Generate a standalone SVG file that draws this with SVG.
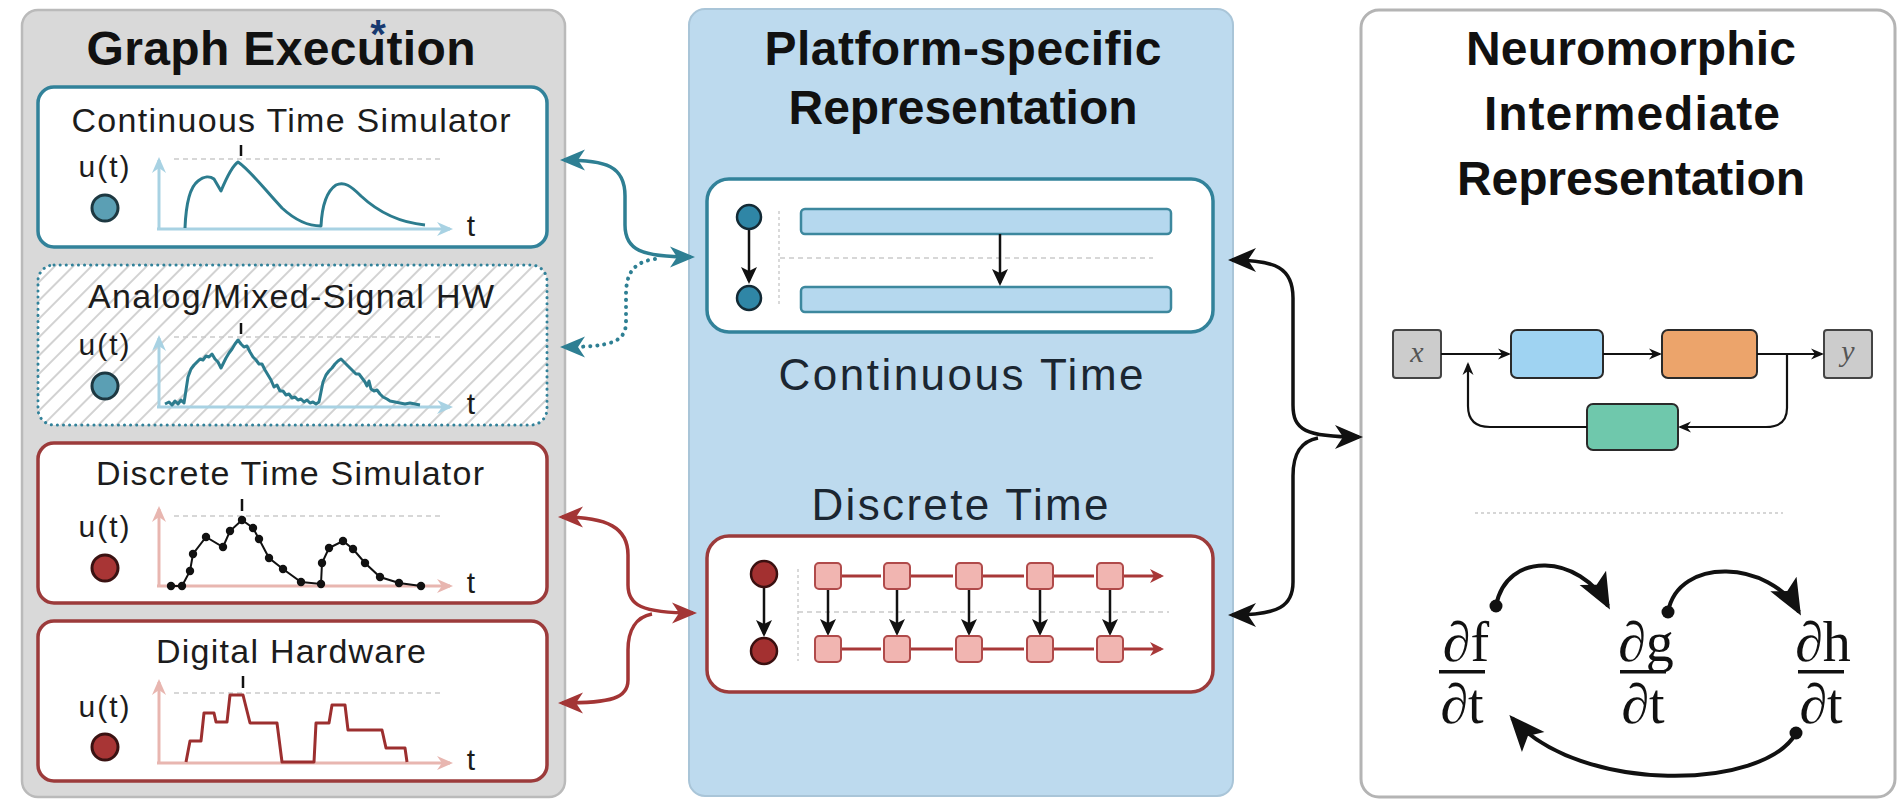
<svg xmlns="http://www.w3.org/2000/svg" width="1898" height="800" viewBox="0 0 1898 800">
  <style>
    .title{font-family:"Liberation Sans",Arial,sans-serif;font-weight:bold;font-size:48px;fill:#111;text-anchor:middle}
    .lbl{font-family:"Liberation Sans",Arial,sans-serif;font-size:34px;fill:#1c1c1c;text-anchor:middle}
    .sub{font-family:"Liberation Sans",Arial,sans-serif;font-size:44px;fill:#1b2631;text-anchor:middle}
    .ut{font-family:"Liberation Sans",Arial,sans-serif;font-size:30px;fill:#1c1c1c;text-anchor:middle}
    .math{font-family:"Liberation Serif","Times New Roman",serif;font-size:56px;fill:#111;text-anchor:middle}
    .var{font-family:"Liberation Serif","Times New Roman",serif;font-style:italic;font-size:30px;fill:#555;text-anchor:middle}
    .dash{stroke:#cacaca;stroke-width:1.6;stroke-dasharray:5 4;fill:none}
    .tick{stroke:#111;stroke-width:2.5}
    .axT{stroke:#a8d2e3;stroke-width:3;fill:none;marker-end:url(#hAxT)}
    .axR{stroke:#e8b6b0;stroke-width:3;fill:none;marker-end:url(#hAxR)}
    .nT{fill:#5b9fb4;stroke:#1d3841;stroke-width:3}
    .nR{fill:#a83535;stroke:#3a1212;stroke-width:3}
    .cT{stroke:#2c7c8e;stroke-width:3;fill:none;stroke-linejoin:round}
    .cR{stroke:#9c2f2f;stroke-width:3;fill:none;stroke-linejoin:round}
    .bar{fill:#b5d8ee;stroke:#3d889e;stroke-width:2.5}
    .sq{fill:#f1b5b1;stroke:#b04a4a;stroke-width:2}
    .ra{stroke:#a83838;stroke-width:3;fill:none;marker-end:url(#hRedSm)}
    .ba{stroke:#111;stroke-width:2.5;fill:none;marker-end:url(#hMid)}
    .ga{stroke:#111;stroke-width:2.2;fill:none;marker-end:url(#hSm)}
    .arc{stroke:#111;stroke-width:4;fill:none;marker-end:url(#hBig)}
  </style>
  <defs>
    <marker id="hTeal" markerUnits="userSpaceOnUse" orient="auto-start-reverse" refX="-4" refY="0" markerWidth="1" markerHeight="1" overflow="visible">
      <path d="M0,0 L-25,-10.5 L-18,0 L-25,10.5 Z" fill="#2e7f93"/>
    </marker>
    <marker id="hRed" markerUnits="userSpaceOnUse" orient="auto-start-reverse" refX="-4" refY="0" markerWidth="1" markerHeight="1" overflow="visible">
      <path d="M0,0 L-25,-10.5 L-18,0 L-25,10.5 Z" fill="#a33535"/>
    </marker>
    <marker id="hBlack" markerUnits="userSpaceOnUse" orient="auto-start-reverse" refX="-4" refY="0" markerWidth="1" markerHeight="1" overflow="visible">
      <path d="M0,0 L-28,-12 L-20,0 L-28,12 Z" fill="#111"/>
    </marker>
    <marker id="hAxT" markerUnits="userSpaceOnUse" orient="auto" refX="-3" refY="0" markerWidth="1" markerHeight="1" overflow="visible">
      <path d="M0,0 L-16,-7 L-11,0 L-16,7 Z" fill="#a8d2e3"/>
    </marker>
    <marker id="hAxR" markerUnits="userSpaceOnUse" orient="auto" refX="-3" refY="0" markerWidth="1" markerHeight="1" overflow="visible">
      <path d="M0,0 L-16,-7 L-11,0 L-16,7 Z" fill="#e8b6b0"/>
    </marker>
    <marker id="hMid" markerUnits="userSpaceOnUse" orient="auto" refX="-3" refY="0" markerWidth="1" markerHeight="1" overflow="visible">
      <path d="M0,0 L-17,-8 L-13,0 L-17,8 Z" fill="#111"/>
    </marker>
    <marker id="hRedSm" markerUnits="userSpaceOnUse" orient="auto" refX="-3" refY="0" markerWidth="1" markerHeight="1" overflow="visible">
      <path d="M0,0 L-14,-7 L-10,0 L-14,7 Z" fill="#a83838"/>
    </marker>
    <marker id="hSm" markerUnits="userSpaceOnUse" orient="auto" refX="-2" refY="0" markerWidth="1" markerHeight="1" overflow="visible">
      <path d="M0,0 L-13,-5.5 L-9,0 L-13,5.5 Z" fill="#111"/>
    </marker>
    <marker id="hBig" markerUnits="userSpaceOnUse" orient="auto" refX="-4" refY="0" markerWidth="1" markerHeight="1" overflow="visible">
      <path d="M0,0 L-36,-15 L-28,0 L-36,15 Z" fill="#111"/>
    </marker>
    <pattern id="hatch" width="13" height="13" patternUnits="userSpaceOnUse" patternTransform="rotate(45)">
      <line x1="6" y1="0" x2="6" y2="13" stroke="#d2d2d2" stroke-width="2"/>
    </pattern>
  </defs>

  <!-- panel backgrounds -->
  <g id="panel-graph-execution">
    <rect x="22" y="10" width="543" height="787" rx="16" fill="#d9d9d9" stroke="#bababa" stroke-width="2.5"/>
    <text class="title" x="281" y="65" textLength="389">Graph Execution</text>
    <text x="378" y="48" font-family="Liberation Sans, Arial, sans-serif" font-size="40" font-weight="bold" fill="#183a70" text-anchor="middle">*</text>
  </g>
  <g id="panel-platform">
    <rect x="689" y="9" width="544" height="787" rx="16" fill="#bddaee" stroke="#a9c5d8" stroke-width="2"/>
    <text class="title" x="963" y="65" textLength="397">Platform-specific</text>
    <text class="title" x="963" y="124" textLength="349">Representation</text>
  </g>
  <g id="panel-nir">
    <rect x="1361" y="10" width="534" height="787" rx="18" fill="#ffffff" stroke="#b4b4b4" stroke-width="3"/>
    <text class="title" x="1631" y="65" textLength="330">Neuromorphic</text>
    <text class="title" x="1632" y="130" textLength="296">Intermediate</text>
    <text class="title" x="1631" y="195" textLength="348">Representation</text>
  </g>

  <!-- execution back-ends -->
  <g id="ct-simulator">
    <rect x="38" y="87" width="509" height="160" rx="16" fill="#fff" stroke="#32829a" stroke-width="3.5"/>
    <text class="lbl" x="291" y="132" textLength="439">Continuous Time Simulator</text>
    <g>
      <text class="ut" x="104" y="177" textLength="51">u(t)</text>
      <circle class="nT" cx="105" cy="208" r="13"/>
      <line class="dash" x1="174" y1="159" x2="440" y2="159"/>
      <path class="axT" d="M159,229 L159,160"/>
      <path class="axT" d="M157,229 L450,229"/>
      <text class="ut" x="471" y="236">t</text>
      <line class="tick" x1="241" y1="145" x2="241" y2="156"/>
      <path class="cT" d="M185,228 C186,203 190,187 198,181 C204,176 210,176 214,179 L221,191 C226,179 232,166 238,162 C250,170 265,190 282,208 C295,220 308,226 321,226 C322,206 327,191 336,185 C344,181 351,186 361,196 C376,210 395,222 425,225"/>
    </g>
  </g>

  <g id="analog-hw">
    <rect x="38" y="265" width="509" height="160" rx="16" fill="#fff"/>
    <rect x="38" y="265" width="509" height="160" rx="16" fill="url(#hatch)" stroke="#32829a" stroke-width="3" stroke-dasharray="0.1 6" stroke-linecap="round"/>
    <text class="lbl" x="291" y="308" textLength="406">Analog/Mixed-Signal HW</text>
    <g transform="translate(0,178)">
      <text class="ut" x="104" y="177" textLength="51">u(t)</text>
      <circle class="nT" cx="105" cy="208" r="13"/>
      <line class="dash" x1="174" y1="159" x2="440" y2="159"/>
      <path class="axT" d="M159,229 L159,160"/>
      <path class="axT" d="M157,229 L450,229"/>
      <text class="ut" x="471" y="236">t</text>
      <line class="tick" x1="241" y1="145" x2="241" y2="156"/>
      <polyline class="cT" stroke-width="2.6" points="165,226 169,224 172,227 175,223 178,226 181,222 184,225 186,212 188,199 191,191 194,187 197,184 200,181 203,182 206,178 209,179 212,176 215,181 218,184 221,190 223,186 226,180 229,175 232,171 235,166 238,162 241,166 244,169 247,168 250,174 253,179 256,182 259,186 262,186 265,192 268,197 271,202 274,209 277,207 280,213 283,213 286,217 289,216 292,220 295,219 298,222 301,221 304,224 307,222 310,225 313,224 316,226 319,224 321,214 323,204 326,197 329,193 332,190 335,186 338,183 341,181 344,184 347,187 350,190 353,193 356,196 359,196 362,200 365,204 367,208 369,203 371,211 374,213 377,212 380,216 383,219 387,221 390,223 395,224 400,225 405,226 410,225 420,227"/>
    </g>
  </g>

  <g id="dt-simulator">
    <rect x="38" y="443" width="509" height="160" rx="16" fill="#fff" stroke="#9c3b3b" stroke-width="3.5"/>
    <text class="lbl" x="290" y="485" textLength="388">Discrete Time Simulator</text>
    <g transform="translate(0,357)">
      <text class="ut" x="104" y="180" textLength="51">u(t)</text>
      <circle class="nR" cx="105" cy="211" r="13"/>
      <line class="dash" x1="174" y1="159" x2="440" y2="159"/>
      <path class="axR" d="M159,229 L159,152"/>
      <path class="axR" d="M157,229 L450,229"/>
      <text class="ut" x="471" y="236">t</text>
      <line class="tick" x1="242" y1="142" x2="242" y2="154"/>
      <polyline fill="none" stroke="#111" stroke-width="2" points="171,229 182,229 190,214 193,197 206,180 223,190 230,174 242,163 253,171 259,182 269,201 283,212 301,225 321,227 322,206 329,191 343,184 353,192 365,206 380,220 399,226 421,229"/>
      <g fill="#111">
        <circle cx="171" cy="229" r="4.2"/><circle cx="182" cy="229" r="4.2"/><circle cx="190" cy="214" r="4.2"/>
        <circle cx="193" cy="197" r="4.2"/><circle cx="206" cy="180" r="4.2"/><circle cx="223" cy="190" r="4.2"/>
        <circle cx="230" cy="174" r="4.2"/><circle cx="242" cy="163" r="4.2"/><circle cx="253" cy="171" r="4.2"/>
        <circle cx="259" cy="182" r="4.2"/><circle cx="269" cy="201" r="4.2"/><circle cx="283" cy="212" r="4.2"/>
        <circle cx="301" cy="225" r="4.2"/><circle cx="321" cy="227" r="4.2"/><circle cx="322" cy="206" r="4.2"/>
        <circle cx="329" cy="191" r="4.2"/><circle cx="343" cy="184" r="4.2"/><circle cx="353" cy="192" r="4.2"/>
        <circle cx="365" cy="206" r="4.2"/><circle cx="380" cy="220" r="4.2"/><circle cx="399" cy="226" r="4.2"/>
        <circle cx="421" cy="229" r="4.2"/>
      </g>
    </g>
  </g>

  <g id="digital-hw">
    <rect x="38" y="621" width="509" height="160" rx="16" fill="#fff" stroke="#9c3b3b" stroke-width="3.5"/>
    <text class="lbl" x="291" y="663" textLength="270">Digital Hardware</text>
    <g transform="translate(0,534)">
      <text class="ut" x="104" y="183" textLength="51">u(t)</text>
      <circle class="nR" cx="105" cy="213" r="13"/>
      <line class="dash" x1="174" y1="159" x2="440" y2="159"/>
      <path class="axR" d="M159,229 L159,148"/>
      <path class="axR" d="M157,229 L450,229"/>
      <text class="ut" x="471" y="236">t</text>
      <line class="tick" x1="243" y1="142" x2="243" y2="154"/>
      <polyline class="cR" points="186,228 190,207 201,207 204,179 214,179 216,188 227,188 230,161 243,161 250,189 277,189 282,228 314,228 316,189 329,189 332,171 345,171 348,196 382,196 386,214 405,214 407,228"/>
    </g>
  </g>

  <!-- platform representations -->
  <g id="continuous-time-repr">
    <rect x="707" y="179" width="506" height="153" rx="22" fill="#fff" stroke="#32829a" stroke-width="3.5"/>
    <line x1="779" y1="211" x2="779" y2="304" stroke="#d0d0d0" stroke-width="1.6" stroke-dasharray="3 3"/>
    <line class="dash" x1="780" y1="258" x2="1153" y2="258"/>
    <rect class="bar" x="801" y="209" width="370" height="25" rx="4"/>
    <rect class="bar" x="801" y="287" width="370" height="25" rx="4"/>
    <path class="ba" d="M749,229 L749,281"/>
    <path class="ba" d="M1000,234 L1000,283"/>
    <circle cx="749" cy="217" r="12" fill="#2f86a6" stroke="#132a35" stroke-width="2.5"/>
    <circle cx="749" cy="298" r="12" fill="#2f86a6" stroke="#132a35" stroke-width="2.5"/>
    <text class="sub" x="961" y="390" textLength="365">Continuous Time</text>
  </g>

  <g id="discrete-time-repr">
    <text class="sub" x="960" y="520" textLength="297">Discrete Time</text>
    <rect x="707" y="536" width="506" height="156" rx="22" fill="#fff" stroke="#9c3b3b" stroke-width="3.5"/>
    <line x1="798" y1="569" x2="798" y2="661" stroke="#d0d0d0" stroke-width="1.6" stroke-dasharray="3 3"/>
    <line class="dash" x1="798" y1="612" x2="1169" y2="612"/>
    <path class="ba" d="M764,588 L764,634"/>
    <circle cx="764" cy="574" r="13" fill="#a33030" stroke="#3a1010" stroke-width="2.5"/>
    <circle cx="764" cy="651" r="13" fill="#a33030" stroke="#3a1010" stroke-width="2.5"/>
    <g>
      <path class="ra" d="M841,576 L881,576 M910,576 L953,576 M982,576 L1024,576 M1053,576 L1094,576 M1123,576 L1161,576"/>
      <path class="ra" d="M841,649 L881,649 M910,649 L953,649 M982,649 L1024,649 M1053,649 L1094,649 M1123,649 L1161,649"/>
      <path class="ba" d="M828,589 L828,633"/>
      <path class="ba" d="M897,589 L897,633"/>
      <path class="ba" d="M969,589 L969,633"/>
      <path class="ba" d="M1040,589 L1040,633"/>
      <path class="ba" d="M1110,589 L1110,633"/>
      <rect class="sq" x="815" y="563" width="26" height="26" rx="4"/>
      <rect class="sq" x="884" y="563" width="26" height="26" rx="4"/>
      <rect class="sq" x="956" y="563" width="26" height="26" rx="4"/>
      <rect class="sq" x="1027" y="563" width="26" height="26" rx="4"/>
      <rect class="sq" x="1097" y="563" width="26" height="26" rx="4"/>
      <rect class="sq" x="815" y="636" width="26" height="26" rx="4"/>
      <rect class="sq" x="884" y="636" width="26" height="26" rx="4"/>
      <rect class="sq" x="956" y="636" width="26" height="26" rx="4"/>
      <rect class="sq" x="1027" y="636" width="26" height="26" rx="4"/>
      <rect class="sq" x="1097" y="636" width="26" height="26" rx="4"/>
    </g>
  </g>

  <!-- neuromorphic IR graph -->
  <g id="nir-x">
    <rect x="1393" y="330" width="48" height="48" rx="3" fill="#cccccc" stroke="#444" stroke-width="2"/>
    <text class="var" x="1417" y="362">x</text>
  </g>
  <g id="nir-blue">
    <rect x="1511" y="330" width="92" height="48" rx="6" fill="#9fd3f2" stroke="#2a2a2a" stroke-width="2"/>
  </g>
  <g id="nir-orange">
    <rect x="1662" y="330" width="95" height="48" rx="6" fill="#eca46b" stroke="#2a2a2a" stroke-width="2"/>
  </g>
  <g id="nir-y">
    <rect x="1824" y="330" width="48" height="48" rx="3" fill="#cccccc" stroke="#444" stroke-width="2"/>
    <text class="var" x="1848" y="361">y</text>
  </g>
  <g id="nir-green">
    <rect x="1587" y="404" width="91" height="46" rx="6" fill="#6fc8ac" stroke="#2a2a2a" stroke-width="2"/>
  </g>

  <line x1="1475" y1="513" x2="1783" y2="513" stroke="#d6d6d6" stroke-width="2" stroke-dasharray="3 3"/>

  <g id="derivatives">
    <g id="dfdt">
      <text class="math" x="1466" y="661">∂f</text>
      <rect x="1439" y="670" width="46" height="3.5" fill="#111"/>
      <text class="math" x="1462" y="723">∂t</text>
    </g>
    <g id="dgdt">
      <text class="math" x="1646" y="661">∂g</text>
      <rect x="1620" y="670" width="46" height="3.5" fill="#111"/>
      <text class="math" x="1643" y="723">∂t</text>
    </g>
    <g id="dhdt">
      <text class="math" x="1823" y="661">∂h</text>
      <rect x="1798" y="670" width="46" height="3.5" fill="#111"/>
      <text class="math" x="1821" y="723">∂t</text>
    </g>
  </g>

  <!-- connectors -->
  <g id="connectors">
    <path d="M564,160 C606,160 625,166 625,196 L625,225 C625,250 641,257 691,257" fill="none" stroke="#2e7f93" stroke-width="3.5" marker-start="url(#hTeal)" marker-end="url(#hTeal)"/>
    <path d="M655,259 C633,262 626,274 626,295 L626,322 C626,342 611,347 564,347" fill="none" stroke="#2e7f93" stroke-width="4" stroke-dasharray="0.1 7" stroke-linecap="round" marker-end="url(#hTeal)"/>

    <path d="M562,517 C608,517 628,528 628,555 L628,585 C628,605 641,613 693,613" fill="none" stroke="#a33535" stroke-width="3.5" marker-start="url(#hRed)" marker-end="url(#hRed)"/>
    <path d="M652,614 C636,617 628,630 628,650 L628,680 C628,698 612,703 562,703" fill="none" stroke="#a33535" stroke-width="3.5" marker-end="url(#hRed)"/>

    <path d="M1232,260 C1276,260 1293,268 1293,298 L1293,405 C1293,430 1305,437 1359,437" fill="none" stroke="#111" stroke-width="3.5" marker-start="url(#hBlack)" marker-end="url(#hBlack)"/>
    <path d="M1318,438 C1302,441 1293,452 1293,476 L1293,582 C1293,606 1279,615 1232,615" fill="none" stroke="#111" stroke-width="3.5" marker-end="url(#hBlack)"/>

    <path class="ga" d="M1441,354 L1509,354"/>
    <path class="ga" d="M1603,354 L1660,354"/>
    <path class="ga" d="M1757,354 L1822,354"/>
    <path class="ga" d="M1787,354 L1787,408 C1787,421 1780,427 1766,427 L1680,427"/>
    <path class="ga" d="M1587,427 L1490,427 C1476,427 1468,420 1468,406 L1468,364"/>

    <path class="arc" d="M1496,606 C1506,550 1580,554 1608,606"/>
    <path class="arc" d="M1668,612 C1678,556 1770,560 1799,612"/>
    <path class="arc" d="M1796,733 C1765,790 1580,795 1512,718"/>
    <g fill="#111">
      <circle cx="1496" cy="606" r="6.5"/>
      <circle cx="1668" cy="612" r="6.5"/>
      <circle cx="1796" cy="733" r="6.5"/>
    </g>
  </g>
</svg>
